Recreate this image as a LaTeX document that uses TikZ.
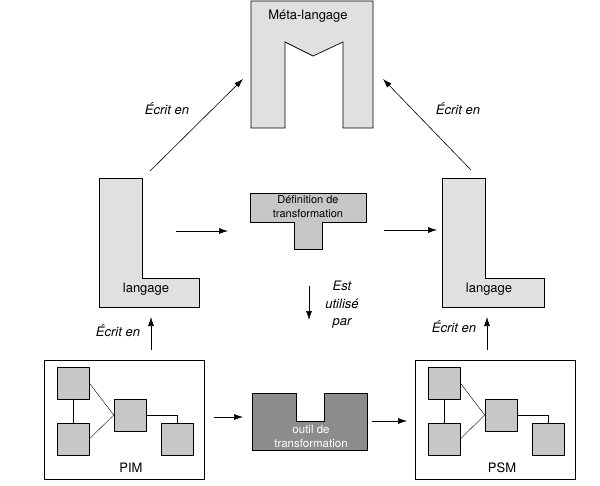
\documentclass[tikz,border=0pt]{standalone}
\usepackage{fontspec}
\setmainfont{TeX Gyre Heros}
\usetikzlibrary{arrows.meta}
\definecolor{grisclair}{gray}{0.88}
\definecolor{grismoyen}{gray}{0.78}
\definecolor{grisfonce}{gray}{0.55}
\tikzset{
	forme/.style={draw=black, line width=0.7pt, fill=grisclair},
	fleche/.style={-{Latex[length=9pt,width=6pt]}, line width=0.6pt},
	carre/.style={draw, line width=0.6pt, fill=grismoyen, minimum size=32pt, inner sep=0pt},
	texte/.style={font=\fontsize{13}{15}\selectfont, inner sep=0pt},
	legende/.style={font=\fontsize{13}{17.5}\selectfont\itshape, align=center, inner sep=0pt},
}
\begin{document}
\begin{tikzpicture}[x=1pt,y=-1pt]
	\useasboundingbox (0,0) rectangle (600,485);
			  		% Meta-langage
				  		\draw[forme] (251,1) -- (373,1) -- (373,128) -- (343,128) -- (343,42) -- (313,56) -- (285,42) -- (285,128) -- (251,128) -- cycle;
				  		\node[texte] (meta) at (308,16) {Méta-langage};

			  		% Langages
				  		\draw[forme] (99,178) -- (142,178) -- (142,278) -- (199,278) -- (199,307) -- (99,307) -- cycle;
				  		\node[texte] (langG) at (146,289) {langage};
				  		\draw[forme] (442,178) -- (485,178) -- (485,278) -- (544,278) -- (544,307) -- (442,307) -- cycle;
				  		\node[texte] (langD) at (489,289) {langage};

			  		% Definition de transformation
				  		\draw[forme, fill=grismoyen] (250,193) -- (366,193) -- (366,222) -- (322,222) -- (322,249) -- (294,249) -- (294,222) -- (250,222) -- cycle;
				  		\node[font=\fontsize{11}{14}\selectfont, align=center, inner sep=0pt] (defT) at (308,207) {Définition de\\transformation};

			  		% Outil de transformation
				  		\draw[forme, fill=grisfonce] (252,393) -- (296,393) -- (296,421) -- (324,421) -- (324,393) -- (367,393) -- (367,450) -- (252,450) -- cycle;
				  		\node[font=\fontsize{11.5}{14}\selectfont, align=center, inner sep=0pt, text=white] (outil) at (311,436) {outil de\\transformation};

			  		% Modeles
				  		\foreach \dx/\nom in {0/PIM,371/PSM}{
				  			\begin{scope}[xshift=\dx]
				  				\draw[line width=0.7pt] (44,360) rectangle (204,479);
				  				\node[carre] (\nom-a) at (73,383) {};
				  				\node[carre] (\nom-b) at (73,439) {};
				  				\node[carre] (\nom-c) at (130,415) {};
				  				\node[carre] (\nom-d) at (177,439) {};
				  				\draw (\nom-a) -- (\nom-b);
				  				\draw (\nom-a.east) -- (\nom-c.west);
				  				\draw (\nom-b.east) -- (\nom-c.west);
				  				\draw (\nom-c.east) -| (\nom-d.north);
				  				\node[texte] (\nom) at (131,468) {\nom};
				  			\end{scope}
				  		}

			  		% Points des fleches
				  		\coordinate (diagG1) at (150,171);
				  		\coordinate (diagG2) at (243,79);
				  		\coordinate (diagD1) at (471,170);
				  		\coordinate (diagD2) at (383,79);
				  		\coordinate (horG1) at (176,231);
				  		\coordinate (horG2) at (228,231);
				  		\coordinate (horD1) at (384,230);
				  		\coordinate (horD2) at (437,230);
				  		\coordinate (bas1) at (309,286);
				  		\coordinate (bas2) at (309,320);
				  		\coordinate (montG1) at (151,350);
				  		\coordinate (montG2) at (151,317);
				  		\coordinate (montD1) at (487,350);
				  		\coordinate (montD2) at (487,317);
				  		\coordinate (outG1) at (214,417);
				  		\coordinate (outG2) at (243,417);
				  		\coordinate (outD1) at (372,421);
				  		\coordinate (outD2) at (407,421);

			  		% Fleches
				  		\draw[fleche] (diagG1) -- (diagG2);
				  		\draw[fleche] (diagD1) -- (diagD2);
				  		\draw[fleche] (horG1) -- (horG2);
				  		\draw[fleche] (horD1) -- (horD2);
				  		\draw[fleche] (bas1) -- (bas2);
				  		\draw[fleche] (montG1) -- (montG2);
				  		\draw[fleche] (montD1) -- (montD2);
				  		\draw[fleche] (outG1) -- (outG2);
				  		\draw[fleche] (outD1) -- (outD2);

			  		% Legendes
				  		\node[legende] (ecritMG) at (167,109) {Écrit en};
				  		\node[legende] (ecritMD) at (458,109) {Écrit en};
				  		\node[legende] (ecritG) at (118,331) {Écrit en};
				  		\node[legende] (ecritD) at (454,327) {Écrit en};
				  		\node[legende] (utilise) at (342,305) {Est\\utilisé\\par};
\end{tikzpicture}
\end{document}
